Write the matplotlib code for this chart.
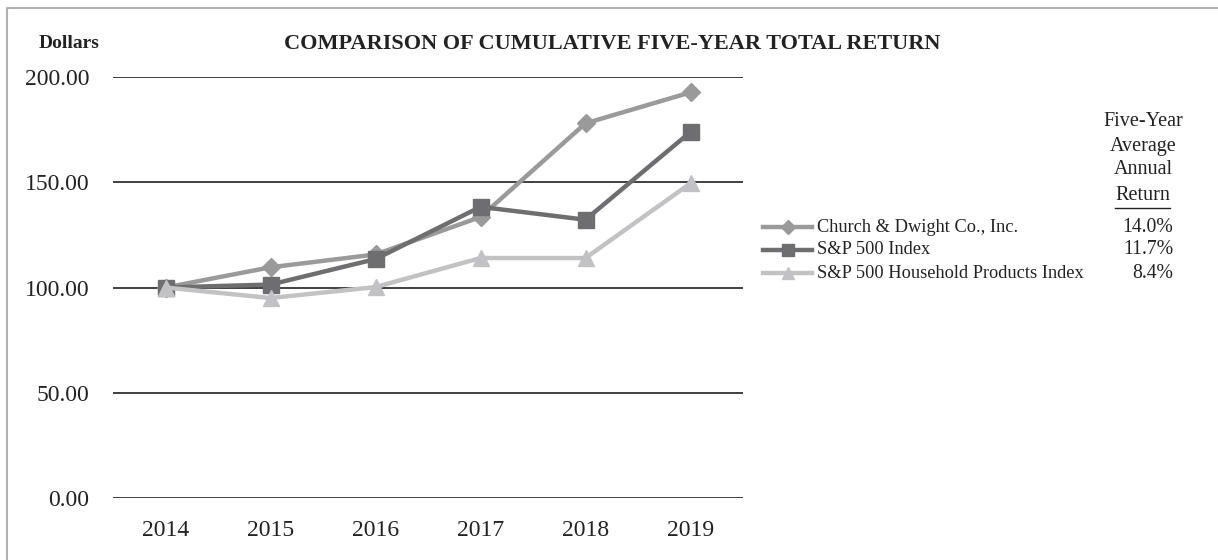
import matplotlib
matplotlib.use("Agg")
import matplotlib.pyplot as plt
from matplotlib.lines import Line2D

plt.rcParams['font.family'] = ['Liberation Serif', 'DejaVu Serif']

years = ["2014", "2015", "2016", "2017", "2018", "2019"]
chd = [100.0, 109.6, 115.7, 133.5, 178.0, 192.7]
sp500 = [100.0, 101.4, 113.5, 138.3, 132.2, 173.9]
household = [100.0, 95.0, 100.2, 114.0, 114.0, 149.5]
series_names = ["Church & Dwight Co., Inc.", "S&P 500 Index", "S&P 500 Household Products Index"]
avg_returns = ["14.0%", "11.7%", "8.4%"]
yticks = [0, 50, 100, 150, 200]

W, H = 1218, 560
fig = plt.figure(figsize=(W / 100, H / 100), dpi=100)

def fx(px):
    return px / W

def fy(py):
    return 1 - py / H

ax = fig.add_axes([fx(113), fy(498), fx(743 - 113), (498 - 77) / H])
x = list(range(len(years)))
colors = ["#9a9a9a", "#6e6e70", "#c2c2c4"]
markers = ["D", "s", "^"]
msizes = [9, 11, 11]
for vals, c, m, ms, name in zip([chd, sp500, household], colors, markers, msizes, series_names):
    ax.plot(x, vals, color=c, lw=3.2, marker=m, ms=ms, mec=c, mfc=c, label=name, zorder=3)

ax.set_xlim(-0.5, len(years) - 0.5)
ax.set_ylim(0, 200)
ax.set_yticks(yticks)
ax.set_yticklabels([f"{v:.2f}" for v in yticks], fontsize=17)
ax.set_xticks(x)
ax.set_xticklabels(years, fontsize=17)
ax.tick_params(axis='both', length=0, colors='#222222')
ax.tick_params(axis='y', pad=17)
ax.tick_params(axis='x', pad=16)
ax.grid(axis='y', color='#404040', lw=1.4, zorder=1)
for s in ax.spines.values():
    s.set_visible(False)
ax.set_facecolor('none')

# border
fig.add_artist(Line2D([fx(7), fx(7), fx(W)], [fy(H), fy(8), fy(8)], color='#b0b0b0', lw=1.5, transform=fig.transFigure))

fig.text(fx(69), fy(43), "Dollars", fontsize=14, fontweight='bold', ha='center', va='center', color='#222222')
fig.text(fx(612), fy(44), "COMPARISON OF CUMULATIVE FIVE-YEAR TOTAL RETURN", fontsize=16,
         fontweight='bold', ha='center', va='center', color='#222222')

# legend
leg_y = [227, 250, 273]
for name, c, m, ms, ret, yy in zip(series_names, colors, markers, msizes, avg_returns, leg_y):
    fig.add_artist(Line2D([fx(763), fx(812)], [fy(yy), fy(yy)], color=c, lw=3.2, transform=fig.transFigure))
    fig.add_artist(Line2D([fx(787.5)], [fy(yy)], color=c, marker=m, ms=ms * 0.75, mec=c, mfc=c,
                          transform=fig.transFigure))
    fig.text(fx(817), fy(yy), name, fontsize=13.2, ha='left', va='center', color='#222222')
    fig.text(fx(1173), fy(yy), ret, fontsize=14.2, ha='right', va='center', color='#222222')

for txt, yy in zip(["Five-Year", "Average", "Annual", "Return"], [121, 146, 170, 195]):
    fig.text(fx(1143), fy(yy), txt, fontsize=14.5, ha='center', va='center', color='#222222')
fig.add_artist(Line2D([fx(1115), fx(1170)], [fy(208), fy(208)], color='#222222', lw=1.0, transform=fig.transFigure))

fig.savefig("out.png", dpi=100)
